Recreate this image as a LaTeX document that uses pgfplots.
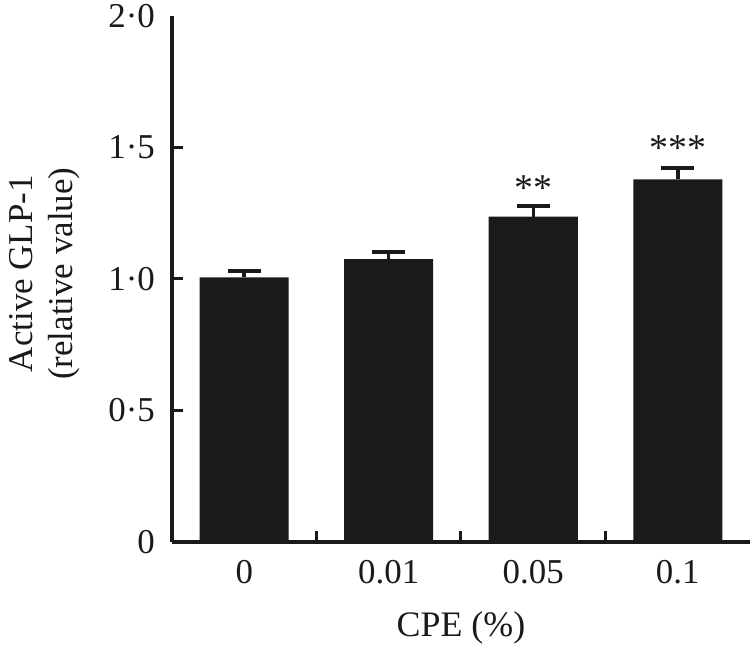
\documentclass[border=0pt]{standalone}
\usepackage{pgfplots}
\pgfplotsset{compat=1.18}
\usepackage{fontspec}
\setmainfont{Liberation Serif}
\definecolor{barc}{HTML}{1A1A1A}
\begin{document}
\fontsize{35}{40}\selectfont
\begin{tikzpicture}
\begin{axis}[
  name=ax,
  scale only axis,
  width=578bp, height=526bp,
  xmin=-0.5, xmax=3.5, ymin=0, ymax=2,
  axis x line=bottom, axis y line=left,
  axis line style={-, line width=3.5bp, color=barc},
  xtick={0,1,2,3}, xticklabels={0,0.01,0.05,0.1},
  minor xtick={0.5,1.5,2.5},
  ytick={0,0.5,1,1.5,2}, yticklabels={0,0·5,1·0,1·5,2·0},
  minor ytick={0.5,1,1.5},
  major tick length=0pt, minor tick length=11bp,
  tick align=inside,
  every tick/.style={line width=3bp, color=barc},
  tick label style={font=\fontsize{35}{40}\selectfont, text=barc},
  xticklabel style={anchor=base, inner sep=0pt, yshift=-41bp},
  yticklabel style={anchor=east, inner sep=0pt, xshift=-17bp},
  xlabel={CPE (\%)},
  xlabel style={at={(axis description cs:0.5,0)}, anchor=base, yshift=-94bp, inner sep=0pt, font=\fontsize{36}{40}\selectfont, text=barc},
  ylabel={Active GLP-1\\(relative value)},
  ylabel style={at={(axis description cs:-0.159,0.51)}, anchor=south, rotate=0, align=center, inner sep=0pt, font=\fontsize{35}{40}\selectfont, text=barc},
]
\addplot[ybar, bar width=89bp, bar shift=0pt, fill=barc, draw=none,
  error bars/.cd, y dir=plus, y explicit, error mark=|,
  error bar style={line width=3.5bp, color=barc},
  error mark options={line width=4bp, mark size=16.5bp, color=barc}]
  coordinates {
    (0,1.006) +- (0,0.026)
    (1,1.076) +- (0,0.025)
    (2,1.237) +- (0,0.041)
    (3,1.379) +- (0,0.044)
  };
\node[anchor=base, inner sep=0pt, text=barc, font=\fontsize{38}{40}\selectfont] at (axis cs:2,1.30) {**};
\node[anchor=base, inner sep=0pt, text=barc, font=\fontsize{38}{40}\selectfont] at (axis cs:3,1.449) {***};
\end{axis}
\pgfresetboundingbox
\path ([xshift=-172bp,yshift=-105bp]ax.south west) rectangle ([yshift=16bp]ax.north east);
\end{tikzpicture}
\end{document}
